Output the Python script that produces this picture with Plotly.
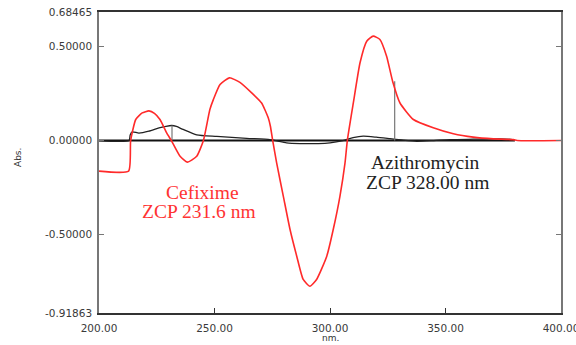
import plotly.graph_objects as go

# Cefixime derivative spectrum (red)
wl_red = [200, 212.8, 213.7, 215.9, 218.7, 221.6, 224.0, 226.4, 229.3, 231.5, 235.1, 238.2,
          242.3, 245.2, 248.0, 249.5, 252.4, 256.5, 261.0, 266.1, 270.4, 273.3, 274.2, 275.2,
          276.9, 279.8, 282.7, 285.6, 288.4, 291.3, 294.2, 298.6, 301.4, 304.3, 306.5, 307.5,
          310.1, 313.0, 315.9, 318.7, 321.6, 324.5, 327.1, 330.3, 336.1, 344.7, 353.4, 362.0,
          370.7, 379.4, 381.0, 400]
abs_red = [-0.163, -0.163, 0.0, 0.112, 0.147, 0.158, 0.145, 0.112, 0.041, -0.004, -0.084, -0.115,
           -0.084, 0.0, 0.165, 0.218, 0.298, 0.334, 0.31, 0.254, 0.2, 0.12, 0.076, 0.0,
           -0.119, -0.297, -0.474, -0.616, -0.74, -0.776, -0.74, -0.616, -0.474, -0.297, -0.119, 0.0,
           0.2, 0.414, 0.529, 0.556, 0.538, 0.449, 0.316, 0.2, 0.112, 0.068, 0.036, 0.018,
           0.009, 0.005, 0.0, 0.0]

# Azithromycin derivative spectrum (black)
wl_blk = [200, 213.0, 213.5, 214.4, 217.3, 221.6, 226.0, 229.0, 231.5, 233.5, 236.4, 242.3,
          251.0, 263.9, 274.0, 276.5, 281.2, 287.0, 295.0, 300.0, 305.6, 310.0, 314.4, 320.0,
          326.0, 331.0, 337.5, 345.0, 352.0, 362.0, 373.6, 379.0, 380.0]
abs_blk = [0.0, 0.0, 0.03, 0.046, 0.04, 0.05, 0.068, 0.076, 0.08, 0.075, 0.059, 0.03,
           0.022, 0.012, 0.005, 0.0, -0.012, -0.016, -0.016, -0.012, 0.0, 0.015, 0.023, 0.018,
           0.01, 0.003, -0.004, 0.0, 0.005, 0.007, 0.009, 0.005, 0.0]

# Baseline
wl_base = [200, 380]
abs_base = [0, 0]

# Zero-crossing points
zcp_wl = [231.6, 328.0]
zcp_abs = [0.08, 0.316]

x_ticks = [200, 250, 300, 350, 400]
x_ticktext = ["200.00", "250.00", "300.00", "350.00", "400.00"]
y_ticks = [-0.91863, -0.5, 0.0, 0.5, 0.68465]
y_ticktext = ["-0.91863", "-0.50000", "0.00000", "0.50000", "0.68465"]

fig = go.Figure()
fig.add_trace(go.Scatter(x=wl_base, y=abs_base, mode="lines",
                         line=dict(color="#111111", width=2), hoverinfo="skip"))
fig.add_trace(go.Scatter(x=wl_blk, y=abs_blk, mode="lines",
                         line=dict(color="#222222", width=1.3, shape="spline", smoothing=0.6)))
for w, a in zip(zcp_wl, zcp_abs):
    fig.add_trace(go.Scatter(x=[w, w], y=[0, a], mode="lines",
                             line=dict(color="#777777", width=1.2)))
fig.add_trace(go.Scatter(x=wl_red, y=abs_red, mode="lines",
                         line=dict(color="#ff2a2a", width=1.6, shape="spline", smoothing=0.5)))

tick_font = dict(family="DejaVu Sans", size=10.5, color="#3a3a3a")
serif_red = dict(family="Liberation Serif", size=19.5, color="#ff3333")
serif_blk = dict(family="Liberation Serif", size=19.5, color="#222222")

fig.update_layout(
    width=576, height=345,
    margin=dict(l=99, r=15, t=12, b=32),
    paper_bgcolor="white", plot_bgcolor="white",
    showlegend=False,
    xaxis=dict(range=[200, 400], tickvals=x_ticks, ticktext=x_ticktext,
               ticks="inside", ticklen=5, tickcolor="#333333", tickwidth=1,
               showline=True, linecolor="#333333", linewidth=2, mirror=True,
               showgrid=False, zeroline=False, tickfont=tick_font, ticklabelstandoff=4,
               ticklabeloverflow="allow", automargin=False),
    yaxis=dict(range=[-0.91863, 0.68465], tickvals=y_ticks, ticktext=y_ticktext,
               ticks="inside", ticklen=5, tickcolor="#777777", tickwidth=1,
               showline=True, linecolor="#777777", linewidth=1.5, mirror="ticks",
               showgrid=False, zeroline=False, tickfont=tick_font, ticklabelstandoff=3,
               ticklabeloverflow="allow", automargin=False),
    annotations=[
        dict(text="Abs.", x=(18 - 99) / 462, y=(313 - 158) / 301, xref="paper", yref="paper",
             showarrow=False, textangle=-90, xanchor="center", yanchor="middle",
             font=dict(family="DejaVu Sans", size=9, color="#333333")),
        dict(text="nm.", x=300, y=0, xref="x", yref="paper", yshift=-25, yanchor="middle",
             showarrow=False, font=dict(family="DejaVu Sans", size=9, color="#333333")),
        dict(text="Cefixime", x=244.8, y=-0.277, xref="x", yref="y", yanchor="middle",
             showarrow=False, font=serif_red),
        dict(text="ZCP 231.6 nm", x=243.3, y=-0.376, xref="x", yref="y", yanchor="middle",
             showarrow=False, font=serif_red),
        dict(text="Azithromycin", x=341.4, y=-0.116, xref="x", yref="y", yanchor="middle",
             showarrow=False, font=serif_blk),
        dict(text="ZCP 328.00 nm", x=342.4, y=-0.222, xref="x", yref="y", yanchor="middle",
             showarrow=False, font=serif_blk),
    ],
)

fig.write_html("out.html", config={"displayModeBar": False},
               post_script="document.body.style.margin='0';")
